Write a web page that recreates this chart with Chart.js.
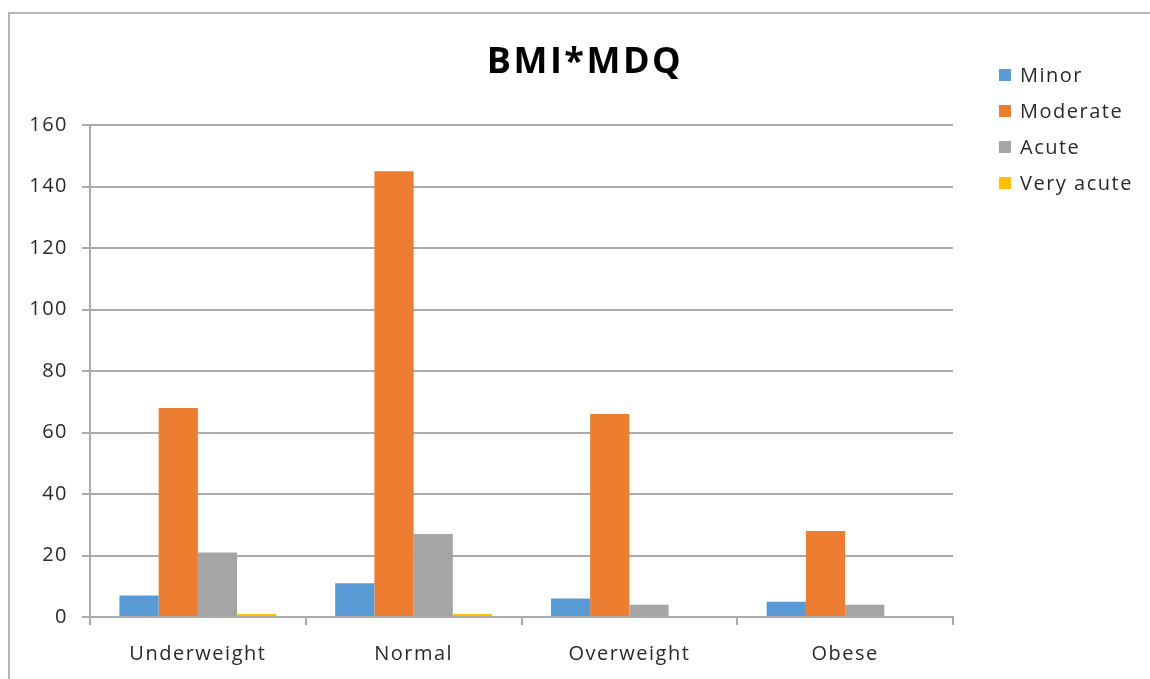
<!DOCTYPE html>
<html>
<head>
<meta charset="utf-8">
<title>BMI*MDQ</title>
<script src="https://cdn.jsdelivr.net/npm/chart.js@4/dist/chart.umd.min.js"></script>
<style>
  html, body { margin: 0; padding: 0; background: #ffffff; }
  #wrap { position: relative; width: 1150px; height: 679px; overflow: hidden; }
  canvas { display: block; }
</style>
</head>
<body>
<div id="wrap"><canvas id="chart" width="1150" height="679"></canvas></div>
<script>
// BMI groups on the x axis
const categories = ['Underweight', 'Normal', 'Overweight', 'Obese'];

// MDQ severity counts per BMI group
const minor     = [7, 11, 6, 5];
const moderate  = [68, 145, 66, 28];
const acute     = [21, 27, 4, 4];
const veryAcute = [1, 1, 0, 0];

const seriesNames = ['Minor', 'Moderate', 'Acute', 'Very acute'];
const yTicks = [0, 20, 40, 60, 80, 100, 120, 140, 160];

const titleText = 'BMI*MDQ';

const COLORS = ['#5B9BD5', '#ED7D31', '#A5A5A5', '#FFC000'];
const GRID = '#ababab';
const TEXT = '#2a2a2a';
const FONT = "'Open Sans', 'DejaVu Sans', sans-serif";

// Wider glyph spacing for all canvas text
const spacingPlugin = {
  id: 'spacing',
  beforeInit(chart) { chart.ctx.letterSpacing = '1.5px'; },
  beforeUpdate(chart) { chart.ctx.letterSpacing = '1.5px'; }
};

// Frame, title and legend drawn around the plot
const decorPlugin = {
  id: 'decor',
  beforeDraw(chart) {
    const ctx = chart.ctx;
    ctx.save();
    ctx.fillStyle = '#ffffff';
    ctx.fillRect(0, 0, chart.width, chart.height);
    ctx.strokeStyle = '#b4b4b4';
    ctx.lineWidth = 2;
    ctx.beginPath();
    ctx.moveTo(9, chart.height + 5);
    ctx.lineTo(9, 13);
    ctx.lineTo(chart.width + 5, 13);
    ctx.stroke();
    ctx.restore();
  },
  afterDraw(chart) {
    const ctx = chart.ctx;
    ctx.save();
    // title
    ctx.letterSpacing = '2.5px';
    ctx.font = `bold 36px ${FONT}`;
    ctx.fillStyle = '#000000';
    ctx.textAlign = 'center';
    ctx.textBaseline = 'middle';
    ctx.fillText(titleText, 585, 63);
    // legend
    ctx.letterSpacing = '1.5px';
    ctx.font = `20px ${FONT}`;
    ctx.textAlign = 'left';
    chart.data.datasets.forEach((ds, i) => {
      const y = 75 + i * 36;
      ctx.fillStyle = ds.backgroundColor;
      ctx.fillRect(999, y - 6, 12, 12);
      ctx.fillStyle = TEXT;
      ctx.fillText(ds.label, 1020, y + 1);
    });
    ctx.restore();
  }
};

const seriesValues = [minor, moderate, acute, veryAcute];

new Chart(document.getElementById('chart'), {
  type: 'bar',
  data: {
    labels: categories,
    datasets: seriesNames.map((name, i) => ({
      label: name,
      data: seriesValues[i],
      backgroundColor: COLORS[i],
      borderWidth: 0,
      barPercentage: 1.0,
      categoryPercentage: 4 / 5.5
    }))
  },
  options: {
    responsive: false,
    animation: false,
    devicePixelRatio: 1,
    layout: { padding: { top: 125, left: 10, right: 197, bottom: 0 } },
    plugins: {
      legend: { display: false },
      title: { display: false },
      tooltip: { enabled: false }
    },
    scales: {
      x: {
        offset: true,
        grid: {
          offset: true,
          drawOnChartArea: false,
          drawTicks: true,
          tickLength: 8,
          color: GRID,
          lineWidth: 2
        },
        border: { display: true, color: GRID, width: 2 },
        ticks: {
          color: TEXT,
          font: { family: FONT, size: 20 },
          padding: 17
        },
        afterFit(scale) { scale.height = 62; }
      },
      y: {
        min: 0,
        max: 160,
        afterBuildTicks(scale) { scale.ticks = yTicks.map(v => ({ value: v })); },
        grid: {
          color: GRID,
          lineWidth: 2,
          tickLength: 8,
          drawTicks: true
        },
        border: { display: true, color: GRID, width: 2 },
        ticks: {
          color: TEXT,
          font: { family: FONT, size: 20 },
          padding: 14
        },
        afterFit(scale) { scale.width = 80; }
      }
    }
  },
  plugins: [spacingPlugin, decorPlugin]
});
</script>
</body>
</html>
